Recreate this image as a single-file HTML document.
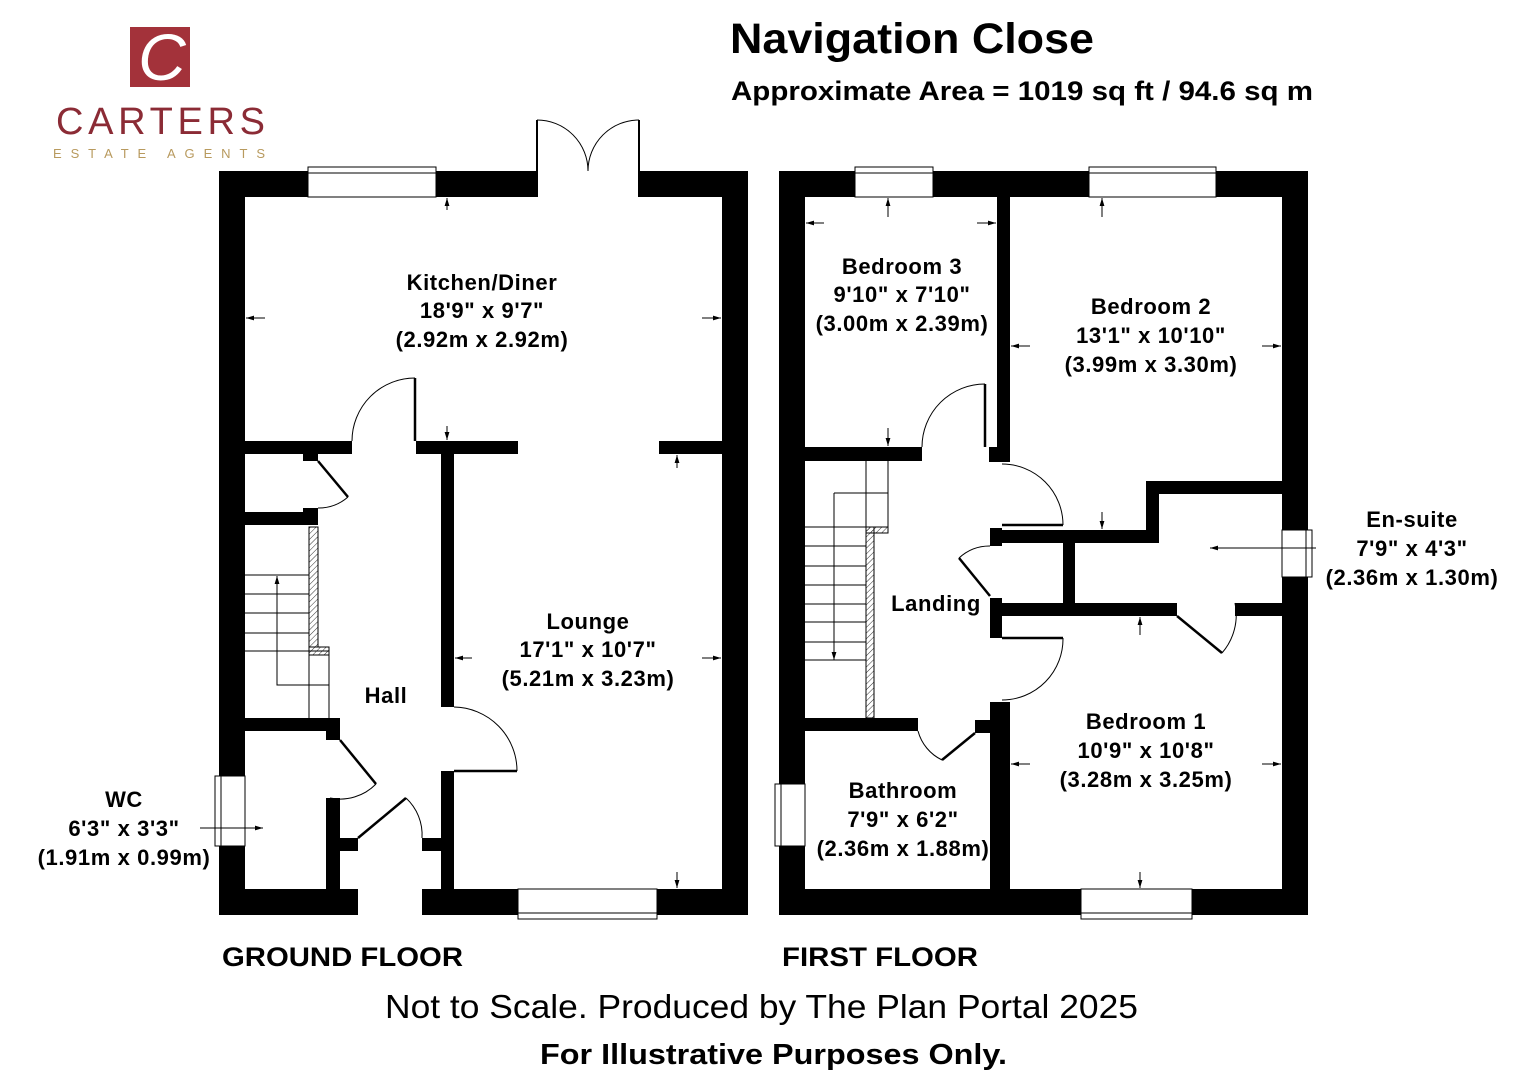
<!DOCTYPE html>
<html><head><meta charset="utf-8"><style>
html,body{margin:0;padding:0;background:#fff;}
svg{display:block;}
text{font-family:"Liberation Sans",sans-serif;}
</style></head><body>
<svg width="1536" height="1080" viewBox="0 0 1536 1080" xmlns="http://www.w3.org/2000/svg">
<defs>
<pattern id="h" width="4" height="4" patternUnits="userSpaceOnUse" patternTransform="rotate(45)"><line x1="0" y1="0" x2="0" y2="4" stroke="#000" stroke-width="0.8"/></pattern>
<marker id="a" viewBox="0 0 10 10" refX="10" refY="5" markerWidth="8" markerHeight="8" orient="auto"><path d="M0,2 L10,5 L0,8z" fill="#000"/></marker>
</defs>
<!-- logo -->
<rect x="130" y="27" width="60" height="60" fill="#a3323a"/>
<text x="162" y="80" font-family="Liberation Serif" font-style="italic" font-size="66" fill="#fff" text-anchor="middle">C</text>
<text x="56" y="134" font-size="38" fill="#8b2b35" textLength="209" lengthAdjust="spacing">CARTERS</text>
<text x="53" y="158" font-size="13" fill="#b89a5e" textLength="212" lengthAdjust="spacing">ESTATE AGENTS</text>
<!-- titles -->
<text x="730" y="53" font-size="43" font-weight="bold" textLength="364" lengthAdjust="spacingAndGlyphs">Navigation Close</text>
<text x="731" y="100" font-size="27" font-weight="bold" textLength="582" lengthAdjust="spacingAndGlyphs">Approximate Area = 1019 sq ft / 94.6 sq m</text>

<g fill="#000">
<rect x="219" y="171" width="89" height="26"/>
<rect x="436" y="171" width="101" height="26"/>
<rect x="639" y="171" width="109" height="26"/>
<rect x="219" y="171" width="26" height="605"/>
<rect x="219" y="846" width="26" height="69"/>
<rect x="722" y="171" width="26" height="744"/>
<rect x="219" y="889" width="139" height="26"/>
<rect x="422" y="889" width="96" height="26"/>
<rect x="657" y="889" width="91" height="26"/>
<rect x="245" y="441" width="107" height="13"/>
<rect x="416" y="441" width="102" height="13"/>
<rect x="659" y="441" width="63" height="13"/>
<rect x="441" y="454" width="13" height="253"/>
<rect x="441" y="771" width="13" height="118"/>
<rect x="245" y="512" width="73" height="13"/>
<rect x="303" y="508" width="15" height="17"/>
<rect x="303" y="454" width="15" height="7"/>
<rect x="245" y="718" width="95" height="13"/>
<rect x="326" y="718" width="14" height="22"/>
<rect x="326" y="798" width="14" height="91"/>
<rect x="340" y="838" width="18" height="13"/>
<rect x="422" y="838" width="19" height="13"/>
<rect x="779" y="171" width="76" height="26"/>
<rect x="933" y="171" width="156" height="26"/>
<rect x="1216" y="171" width="92" height="26"/>
<rect x="779" y="171" width="26" height="613"/>
<rect x="779" y="846" width="26" height="69"/>
<rect x="1282" y="171" width="26" height="359"/>
<rect x="1282" y="577" width="26" height="338"/>
<rect x="779" y="889" width="302" height="26"/>
<rect x="1192" y="889" width="116" height="26"/>
<rect x="997" y="197" width="13" height="265"/>
<rect x="989" y="447" width="21" height="15"/>
<rect x="805" y="447" width="117" height="14"/>
<rect x="1146" y="481" width="136" height="13"/>
<rect x="1146" y="481" width="13" height="62"/>
<rect x="1002" y="530" width="157" height="13"/>
<rect x="990" y="528" width="12" height="18"/>
<rect x="1063" y="543" width="12" height="60"/>
<rect x="1002" y="603" width="175" height="13"/>
<rect x="1235" y="603" width="47" height="13"/>
<rect x="990" y="598" width="12" height="40"/>
<rect x="990" y="702" width="20" height="187"/>
<rect x="975" y="720" width="15" height="13"/>
<rect x="805" y="718" width="113" height="13"/>
</g>

<g fill="none" stroke="#000" stroke-width="1">
<rect x="308" y="167" width="128" height="30" fill="#fff"/>
<line x1="308" y1="173" x2="436" y2="173"/>
<rect x="518" y="889" width="139" height="30" fill="#fff"/>
<line x1="518" y1="913" x2="657" y2="913"/>
<rect x="215" y="776" width="30" height="70" fill="#fff"/>
<line x1="221" y1="776" x2="221" y2="846"/>
<rect x="855" y="167" width="78" height="30" fill="#fff"/>
<line x1="855" y1="173" x2="933" y2="173"/>
<rect x="1089" y="167" width="127" height="30" fill="#fff"/>
<line x1="1089" y1="173" x2="1216" y2="173"/>
<rect x="1081" y="889" width="111" height="30" fill="#fff"/>
<line x1="1081" y1="913" x2="1192" y2="913"/>
<rect x="775" y="784" width="30" height="62" fill="#fff"/>
<line x1="781" y1="784" x2="781" y2="846"/>
<rect x="1282" y="530" width="30" height="47" fill="#fff"/>
<line x1="1306" y1="530" x2="1306" y2="577"/>
<line x1="537" y1="197" x2="537" y2="120" stroke-width="2"/>
<line x1="639" y1="197" x2="639" y2="120" stroke-width="2"/>
<path d="M537,120 A51,51 0 0 1 588,171 M639,120 A51,51 0 0 0 588,171"/>
<line x1="415" y1="441" x2="415" y2="378" stroke-width="2.5"/>
<path d="M415,378 A63,63 0 0 0 352,441"/>
<line x1="318" y1="461" x2="348" y2="497" stroke-width="2.5"/>
<path d="M348,497 A45,45 0 0 1 318,508"/>
<path d="M454,707 A64,64 0 0 1 517,771"/>
<line x1="454" y1="771" x2="517" y2="771" stroke-width="2.5"/>
<line x1="340" y1="740" x2="376" y2="784" stroke-width="2.5"/>
<path d="M376,784 A50,50 0 0 1 330,798"/>
<line x1="358" y1="838" x2="406" y2="798" stroke-width="2.5"/>
<path d="M406,798 A50,50 0 0 1 422,838"/>
<rect x="309" y="527" width="9" height="120" fill="url(#h)"/>
<rect x="309" y="647" width="20" height="8" fill="url(#h)"/>
<line x1="245" y1="575" x2="309" y2="575"/>
<line x1="245" y1="594" x2="309" y2="594"/>
<line x1="245" y1="613" x2="309" y2="613"/>
<line x1="245" y1="633" x2="309" y2="633"/>
<line x1="245" y1="651" x2="329" y2="651"/>
<line x1="309" y1="655" x2="309" y2="718"/>
<line x1="329" y1="655" x2="329" y2="718"/>
<path d="M329,685 L277,685 L277,576" marker-end="url(#a)"/>
<line x1="985" y1="447" x2="985" y2="384" stroke-width="2.5"/>
<path d="M985,384 A63,63 0 0 0 922,447"/>
<line x1="1002" y1="525" x2="1063" y2="525" stroke-width="2.5"/>
<path d="M1002,464 A61,61 0 0 1 1063,525"/>
<line x1="990" y1="596" x2="959" y2="558" stroke-width="2.5"/>
<path d="M959,558 A45,45 0 0 1 990,546"/>
<line x1="1002" y1="638" x2="1063" y2="638" stroke-width="2.5"/>
<path d="M1063,638 A61,61 0 0 1 1002,700"/>
<line x1="1177" y1="616" x2="1222" y2="653" stroke-width="2.5"/>
<path d="M1222,653 A58,58 0 0 0 1235,603"/>
<line x1="975" y1="733" x2="942" y2="760" stroke-width="2.5"/>
<path d="M942,760 A45,45 0 0 1 918,731"/>
<rect x="866" y="527" width="8" height="191" fill="url(#h)"/>
<rect x="866" y="527" width="22" height="6" fill="url(#h)"/>
<line x1="866" y1="461" x2="866" y2="527"/>
<line x1="888" y1="461" x2="888" y2="527"/>
<line x1="834" y1="493" x2="888" y2="493"/>
<line x1="834" y1="493" x2="834" y2="527"/>
<line x1="805" y1="527" x2="866" y2="527"/>
<line x1="805" y1="546" x2="866" y2="546"/>
<line x1="805" y1="566" x2="866" y2="566"/>
<line x1="805" y1="585" x2="866" y2="585"/>
<line x1="805" y1="604" x2="866" y2="604"/>
<line x1="805" y1="622" x2="866" y2="622"/>
<line x1="805" y1="642" x2="866" y2="642"/>
<line x1="805" y1="660" x2="866" y2="660"/>
<line x1="834" y1="527" x2="834" y2="660" marker-end="url(#a)"/>
<line x1="447" y1="210" x2="447" y2="198" marker-end="url(#a)"/>
<line x1="265" y1="318" x2="246" y2="318" marker-end="url(#a)"/>
<line x1="702" y1="318" x2="721" y2="318" marker-end="url(#a)"/>
<line x1="447" y1="426" x2="447" y2="440" marker-end="url(#a)"/>
<line x1="677" y1="468" x2="677" y2="455" marker-end="url(#a)"/>
<line x1="472" y1="658" x2="455" y2="658" marker-end="url(#a)"/>
<line x1="702" y1="658" x2="721" y2="658" marker-end="url(#a)"/>
<line x1="677" y1="872" x2="677" y2="888" marker-end="url(#a)"/>
<line x1="200" y1="828" x2="263" y2="828" marker-end="url(#a)"/>
<line x1="888" y1="217" x2="888" y2="198" marker-end="url(#a)"/>
<line x1="824" y1="223" x2="806" y2="223" marker-end="url(#a)"/>
<line x1="977" y1="223" x2="996" y2="223" marker-end="url(#a)"/>
<line x1="888" y1="428" x2="888" y2="446" marker-end="url(#a)"/>
<line x1="1102" y1="217" x2="1102" y2="198" marker-end="url(#a)"/>
<line x1="1030" y1="346" x2="1011" y2="346" marker-end="url(#a)"/>
<line x1="1262" y1="346" x2="1281" y2="346" marker-end="url(#a)"/>
<line x1="1102" y1="512" x2="1102" y2="529" marker-end="url(#a)"/>
<line x1="1316" y1="548" x2="1210" y2="548" marker-end="url(#a)"/>
<line x1="1140" y1="635" x2="1140" y2="617" marker-end="url(#a)"/>
<line x1="1030" y1="764" x2="1011" y2="764" marker-end="url(#a)"/>
<line x1="1262" y1="764" x2="1281" y2="764" marker-end="url(#a)"/>
<line x1="1140" y1="872" x2="1140" y2="888" marker-end="url(#a)"/>
</g>

<g font-size="22" font-weight="bold" text-anchor="middle" letter-spacing="0.6">
<text x="482" y="290">Kitchen/Diner</text>
<text x="482" y="318">18'9" x 9'7"</text>
<text x="482" y="347">(2.92m x 2.92m)</text>
<text x="588" y="629">Lounge</text>
<text x="588" y="657">17'1" x 10'7"</text>
<text x="588" y="686">(5.21m x 3.23m)</text>
<text x="386" y="703">Hall</text>
<text x="124" y="807">WC</text>
<text x="124" y="836">6'3" x 3'3"</text>
<text x="124" y="865">(1.91m x 0.99m)</text>
<text x="902" y="274">Bedroom 3</text>
<text x="902" y="302">9'10" x 7'10"</text>
<text x="902" y="331">(3.00m x 2.39m)</text>
<text x="1151" y="314">Bedroom 2</text>
<text x="1151" y="343">13'1" x 10'10"</text>
<text x="1151" y="372">(3.99m x 3.30m)</text>
<text x="1412" y="527">En-suite</text>
<text x="1412" y="556">7'9" x 4'3"</text>
<text x="1412" y="585">(2.36m x 1.30m)</text>
<text x="936" y="611">Landing</text>
<text x="1146" y="729">Bedroom 1</text>
<text x="1146" y="758">10'9" x 10'8"</text>
<text x="1146" y="787">(3.28m x 3.25m)</text>
<text x="903" y="798">Bathroom</text>
<text x="903" y="827">7'9" x 6'2"</text>
<text x="903" y="856">(2.36m x 1.88m)</text>
</g>
<text x="222" y="966" font-size="27" font-weight="bold" textLength="241" lengthAdjust="spacingAndGlyphs">GROUND FLOOR</text>
<text x="782" y="966" font-size="27" font-weight="bold" textLength="196" lengthAdjust="spacingAndGlyphs">FIRST FLOOR</text>
<text x="385" y="1018" font-size="33" textLength="753" lengthAdjust="spacingAndGlyphs">Not to Scale. Produced by The Plan Portal 2025</text>
<text x="540" y="1064" font-size="29" font-weight="bold" textLength="467" lengthAdjust="spacingAndGlyphs">For Illustrative Purposes Only.</text>
</svg>
</body></html>
